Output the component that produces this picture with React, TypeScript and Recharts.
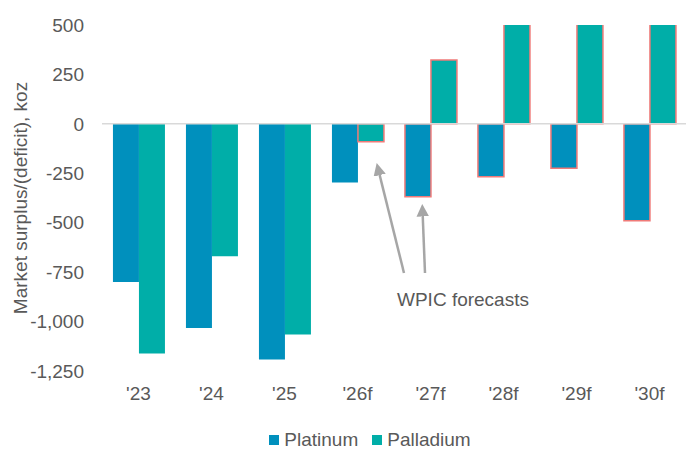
import React from "react";
import { BarChart, Bar, Cell, XAxis, YAxis, ReferenceLine } from "recharts";

const years = ["'23", "'24", "'25", "'26f", "'27f", "'28f", "'29f", "'30f"];
const platinum = [-800, -1032, -1192, -296, -369, -268, -225, -490];
const palladium = [-1162, -669, -1066, -90, 323, 600, 600, 600];
// which bars are outlined as forecasts
const platinumForecast = [false, false, false, false, true, true, true, true];
const palladiumForecast = [false, false, false, true, true, true, true, true];
const yTicks = [-1250, -1000, -750, -500, -250, 0, 250, 500];

const PLATINUM = "#0090BD";
const PALLADIUM = "#00AEA8";
const FORECAST_EDGE = "#F07A78";
const TEXT = "#595959";
const FONT = "'Liberation Sans', Arial, sans-serif";

const data = years.map((year, i) => ({
  year,
  Platinum: platinum[i],
  Palladium: palladium[i],
}));

const YLabel = ({ viewBox }: any) => {
  const x = viewBox.x + 20;
  const y = viewBox.y + viewBox.height / 2;
  return (
    <text
      x={x}
      y={y}
      transform={`rotate(-90 ${x} ${y})`}
      textAnchor="middle"
      dominantBaseline="central"
      fill={TEXT}
      fontSize={19}
      fontFamily={FONT}
    >
      Market surplus/(deficit), koz
    </text>
  );
};

export default function App() {
  return (
    <div style={{ position: "absolute", left: 0, top: 0, width: 696, height: 451, background: "#fff", fontFamily: FONT }}>
      <BarChart
        width={696}
        height={451}
        data={data}
        margin={{ top: 25, right: 10, left: 0, bottom: 40 }}
        barCategoryGap="15%"
        barGap={0}
      >
        <XAxis
          dataKey="year"
          axisLine={false}
          tickLine={false}
          tickSize={0}
          tickMargin={16}
          height={40}
          interval={0}
          tick={{ fill: TEXT, fontSize: 19, fontFamily: FONT }}
        />
        <YAxis
          width={102}
          domain={[-1250, 500]}
          ticks={yTicks}
          allowDataOverflow
          axisLine={false}
          tickLine={false}
          tickSize={0}
          tickMargin={18}
          tickFormatter={(v: number) => v.toLocaleString("en-US")}
          tick={{ fill: TEXT, fontSize: 19, fontFamily: FONT }}
          label={<YLabel />}
        />
        <ReferenceLine y={0} stroke="#D9D9D9" strokeWidth={1.5} />
        <Bar dataKey="Platinum" fill={PLATINUM} isAnimationActive={false}>
          {data.map((d, i) => (
            <Cell
              key={d.year}
              fill={PLATINUM}
              stroke={platinumForecast[i] ? FORECAST_EDGE : "none"}
              strokeWidth={1.5}
            />
          ))}
        </Bar>
        <Bar dataKey="Palladium" fill={PALLADIUM} isAnimationActive={false}>
          {data.map((d, i) => (
            <Cell
              key={d.year}
              fill={PALLADIUM}
              stroke={palladiumForecast[i] ? FORECAST_EDGE : "none"}
              strokeWidth={1.5}
            />
          ))}
        </Bar>
      </BarChart>

      {/* annotation: WPIC forecasts with two arrows */}
      <svg width={696} height={451} style={{ position: "absolute", left: 0, top: 0, pointerEvents: "none" }}>
        <defs>
          <marker id="arrowHead" markerWidth="5" markerHeight="5" refX="2.5" refY="2.5" orient="auto" markerUnits="strokeWidth">
            <path d="M0,0 L5,2.5 L0,5 Z" fill="#A6A6A6" />
          </marker>
        </defs>
        <line x1={404} y1={273} x2={378.2} y2={169.1} stroke="#A6A6A6" strokeWidth={2.5} markerEnd="url(#arrowHead)" />
        <line x1={425} y1={273} x2={422.5} y2={210.2} stroke="#A6A6A6" strokeWidth={2.5} markerEnd="url(#arrowHead)" />
        <text x={397} y={306} fill={TEXT} fontSize={19} fontFamily={FONT}>
          WPIC forecasts
        </text>
      </svg>

      {/* legend */}
      <div
        style={{
          position: "absolute",
          left: 0,
          top: 429,
          width: 696,
          display: "flex",
          justifyContent: "center",
          paddingLeft: 44,
          boxSizing: "border-box",
          color: TEXT,
          fontSize: 19,
          lineHeight: "22px",
        }}
      >
        {[
          { name: "Platinum", color: PLATINUM },
          { name: "Palladium", color: PALLADIUM },
        ].map((item, i) => (
          <div key={item.name} style={{ display: "flex", alignItems: "center", marginLeft: i ? 14 : 0 }}>
            <span style={{ display: "inline-block", width: 10, height: 10, background: item.color, marginRight: 5 }} />
            <span>{item.name}</span>
          </div>
        ))}
      </div>
    </div>
  );
}
